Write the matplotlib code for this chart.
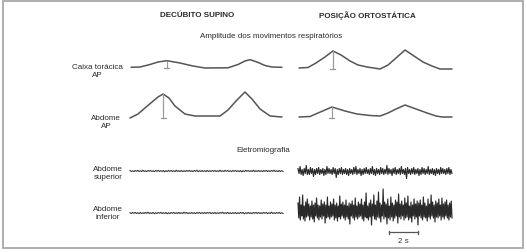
import numpy as np
import matplotlib
matplotlib.use('Agg')
import matplotlib.pyplot as plt
from matplotlib.patches import Rectangle

plt.rcParams['font.family'] = ['Liberation Sans', 'DejaVu Sans']

# breathing traces: time (s) and amplitude (arbitrary units)
sup_caixa_t = [0.07, 0.69, 1.38, 1.93, 2.55, 3.45, 4.34, 5.17, 6.76, 7.45, 7.93, 8.28, 8.76, 9.31, 9.79, 10.48]
sup_caixa_a = [0.7, 1, 3.5, 6, 7.3, 5, 2, 0, 0.2, 3.5, 7, 8.3, 6, 2.5, 1, 0.7]

sup_abd_t = [0, 0.55, 1.03, 1.52, 1.93, 2.28, 2.69, 3.1, 3.79, 4.48, 6.21, 6.76, 7.31, 7.93, 8.41, 8.97, 9.66, 10.48]
sup_abd_a = [0, 4, 10, 16, 21, 24, 20, 12, 4, 2, 2, 8, 17, 26, 19, 9, 2, 1]

ort_caixa_t = [0.07, 0.69, 1.24, 1.86, 2.41, 2.97, 3.59, 4.14, 4.76, 5.66, 6.21, 6.76, 7.38, 8.0, 8.62, 9.24, 9.79, 10.62]
ort_caixa_a = [1, 1.5, 6, 12, 18, 14, 8, 4, 2, 0, 4, 11, 19, 13, 7, 3, 0, 0]

ort_abd_t = [0.07, 0.83, 1.38, 1.86, 2.34, 3.24, 4.07, 4.97, 5.66, 6.21, 6.76, 7.38, 8.14, 8.9, 9.52, 9.93, 10.62]
ort_abd_a = [1, 1.5, 5, 8, 11, 7, 4, 2.5, 2, 5, 9, 13, 9, 5, 2, 1, 1]

# EMG traces (arbitrary units)
emg_sup_sup = [0.5, -0.5, 0.3, -0.6, 0.5, -0.3, 0.6, -0.5, 0.3, -0.5, 0.8, -0.5, 0.3, -0.6, 0.5, -0.3, 0.5, -0.5, 0.3, -0.6,
               0.5, -0.3, 0.6, -0.5, 0.3, -0.5, 0.5, -0.8, 0.3, -0.5, 0.6, -0.3, 0.5, -0.5, 0.3, -0.6, 0.8, -0.5, 0.3, -0.5,
               0.5, -0.6, 0.3, -0.5, 0.5, -0.3, 0.6, -0.5, 0.3, -0.5, 0.5, -0.3, 0.8, -0.6, 0.3, -0.5, 0.5, -0.5, 0.3, -0.6,
               0.6, -0.5, 0.3, -0.5, 0.5, -0.3, 0.5, -0.6, 0.3, -0.5, 0.8, -0.5, 0.3, -0.5, 0.6, -0.3, 0.5, -0.5, 0.3, -0.6,
               0.5, -0.3, 0.5, -0.5, 0.3, -0.6, 0.5, -0.8, 0.3, -0.5, 0.6, -0.3, 0.5, -0.5, 0.3, -0.5, 0.8, -0.6, 0.3, -0.5,
               0.5, -0.5, 0.3, -0.6, 0.5, -0.3, 0.6, -0.5, 0.3, -0.5, 0.5, -0.3, 0.8, -0.5, 0.3, -0.6, 0.5, -0.5, 0.3, -0.5]
emg_sup_inf = [0.3, -0.5, 0.5, -0.3, 0.6, -0.5, 0.3, -0.6, 0.5, -0.5, 0.3, -0.5, 0.6, -0.3, 0.8, -0.5, 0.3, -0.5, 0.5, -0.6,
               0.3, -0.5, 0.5, -0.3, 0.6, -0.5, 0.3, -0.5, 0.5, -0.8, 0.3, -0.6, 0.5, -0.3, 0.5, -0.5, 0.3, -0.5, 0.6, -0.5,
               0.3, -0.5, 0.8, -0.3, 0.5, -0.6, 0.3, -0.5, 0.5, -0.5, 0.3, -0.6, 0.5, -0.3, 0.6, -0.5, 0.3, -0.5, 0.5, -0.5,
               0.5, -0.3, 0.6, -0.5, 0.3, -0.5, 0.5, -0.6, 0.3, -0.5, 0.5, -0.3, 0.8, -0.5, 0.3, -0.5, 0.6, -0.5, 0.3, -0.6,
               0.3, -0.5, 0.5, -0.6, 0.3, -0.5, 0.6, -0.3, 0.5, -0.8, 0.3, -0.5, 0.5, -0.5, 0.3, -0.6, 0.5, -0.3, 0.6, -0.5,
               0.5, -0.5, 0.3, -0.5, 0.6, -0.3, 0.5, -0.6, 0.3, -0.5, 0.8, -0.5, 0.3, -0.5, 0.5, -0.3, 0.6, -0.5, 0.3, -0.5]
emg_ort_sup = [3, -2, 5, -3, 2, -4, 3, -2, 6, -3, 2, -3, 4, -2, 3, -5, 2, -3, 3, -2,
               4, -3, 2, -2, 3, -4, 2, -3, 5, -2, 3, -2, 2, -3, 4, -2, 3, -6, 2, -3,
               3, -2, 4, -3, 2, -2, 3, -3, 2, -4, 3, -2, 2, -3, 4, -2, 5, -3, 2, -2,
               3, -4, 2, -3, 3, -2, 4, -2, 2, -3, 3, -2, 5, -3, 2, -4, 3, -2, 2, -3,
               4, -2, 3, -3, 2, -2, 6, -3, 3, -2, 2, -4, 3, -2, 4, -3, 2, -2, 3, -3,
               5, -2, 2, -3, 3, -7, 4, -2, 2, -3, 3, -2, 4, -3, 2, -2, 3, -4, 2, -3,
               4, -2, 3, -3, 2, -2, 5, -3, 2, -2, 3, -3, 2, -4, 3, -2, 2, -3, 4, -2,
               3, -2, 2, -3, 3, -2, 4, -3, 2, -2]
emg_ort_inf = [8, -7, 14, -9, 6, -5, 16, -8, 5, -10, 9, -6, 12, -5, 7, -9, 5, -6, 10, -8,
               6, -11, 8, -5, 13, -7, 6, -9, 5, -6, 11, -8, 7, -5, 9, -12, 6, -7, 14, -6,
               5, -8, 9, -6, 7, -5, 12, -9, 6, -7, 8, -10, 5, -6, 15, -8, 7, -5, 9, -7,
               6, -9, 11, -6, 5, -8, 8, -13, 7, -5, 10, -7, 6, -9, 13, -6, 5, -8, 9, -6,
               7, -5, 12, -8, 6, -10, 9, -6, 18, -7, 5, -9, 8, -6, 11, -14, 7, -5, 16, -8,
               6, -9, 10, -6, 19, -7, 8, -11, 6, -5, 22, -8, 9, -6, 7, -13, 12, -7, 5, -9,
               14, -6, 8, -10, 6, -7, 11, -5, 9, -12, 17, -6, 7, -8, 10, -5, 6, -9, 13, -7,
               8, -6, 15, -9, 5, -7, 9, -11, 6, -5, 12, -8, 7, -6, 10, -14, 8, -5, 11, -7,
               6, -9, 14, -6, 8, -7, 5, -10, 12, -6, 7, -8, 16, -5, 9, -7, 6, -11, 10, -6,
               8, -7, 12, -5, 6, -9, 13, -6, 7, -8, 9, -5, 11, -7, 6, -9, 8, -6, 10, -7]

PX_PER_S = 14.5  # 2 s = 29 px
LINE = '#555555'

fig = plt.figure(figsize=(5.27, 2.53), dpi=100)
ax = fig.add_axes([0, 0, 1, 1])
ax.set_xlim(0, 527)
ax.set_ylim(253, 0)
ax.axis('off')

ax.add_patch(Rectangle((3, 2), 520, 247, fill=False, edgecolor='#a8a8a8', lw=1.3))


def breath(t, a, x0, base):
    t = np.array(t)
    a = np.array(a)
    ax.plot(x0 + t * PX_PER_S, base - a, color=LINE, lw=1.1, solid_capstyle='round')
    # amplitude marker at first peak
    i = int(np.argmax(a[:len(a) // 2]))
    xm = x0 + t[i] * PX_PER_S
    ax.plot([xm, xm], [base - a[i], base], color='#9a9a9a', lw=0.9)
    ax.plot([xm - 2.5, xm + 2.5], [base, base], color='#9a9a9a', lw=0.9)


def emg(v, x0, base, width=153, lw=0.5, color='#2a2a2a'):
    v = np.array(v, dtype=float)
    t = np.linspace(0, width / PX_PER_S, len(v))
    ax.plot(x0 + t * PX_PER_S, base - v, color=color, lw=lw)


breath(sup_caixa_t, sup_caixa_a, 130, 69)
breath(sup_abd_t, sup_abd_a, 130, 119)
breath(ort_caixa_t, ort_caixa_a, 298, 70)
breath(ort_abd_t, ort_abd_a, 298, 119)

emg(emg_sup_sup, 130, 172, lw=0.8, color='#3a3a3a')
emg(emg_sup_inf, 130, 214, lw=0.8, color='#3a3a3a')
emg(emg_ort_sup, 298, 172.5, width=154, lw=0.85)
emg(emg_ort_inf, 298, 212, width=154, lw=0.85)

# 2 s scale bar
sb_x = 389
ax.plot([sb_x, sb_x + 2 * PX_PER_S], [233, 233], color='#555555', lw=0.9)
ax.plot([sb_x, sb_x], [231.5, 234.5], color='#555555', lw=0.9)
ax.plot([sb_x + 2 * PX_PER_S] * 2, [231.5, 234.5], color='#555555', lw=0.9)
ax.text(sb_x + PX_PER_S, 242, '2 s', ha='center', va='center', fontsize=5.8, color='#333333')

fs = 5.8
txt = '#2a2a2a'
ax.text(197, 15.5, 'DECÚBITO SUPINO', ha='center', va='center', fontsize=fs, fontweight='bold', color=txt)
ax.text(367, 15.5, 'POSIÇÃO ORTOSTÁTICA', ha='center', va='center', fontsize=fs, fontweight='bold', color=txt)
ax.text(271, 36, 'Amplitude dos movimentos respiratórios', ha='center', va='center', fontsize=fs, color=txt)
ax.text(263, 151, 'Eletromiografia', ha='center', va='center', fontsize=fs, color=txt)

ax.text(97, 71, 'Caixa torácica\nAP', ha='center', va='center', fontsize=fs, color=txt, linespacing=1.2)
ax.text(106, 123, 'Abdome\nAP', ha='center', va='center', fontsize=fs, color=txt, linespacing=1.2)
ax.text(108, 173.5, 'Abdome\nsuperior', ha='center', va='center', fontsize=fs, color=txt, linespacing=1.2)
ax.text(108, 214, 'Abdome\ninferior', ha='center', va='center', fontsize=fs, color=txt, linespacing=1.2)

fig.savefig('out.png', dpi=100, facecolor='white')
